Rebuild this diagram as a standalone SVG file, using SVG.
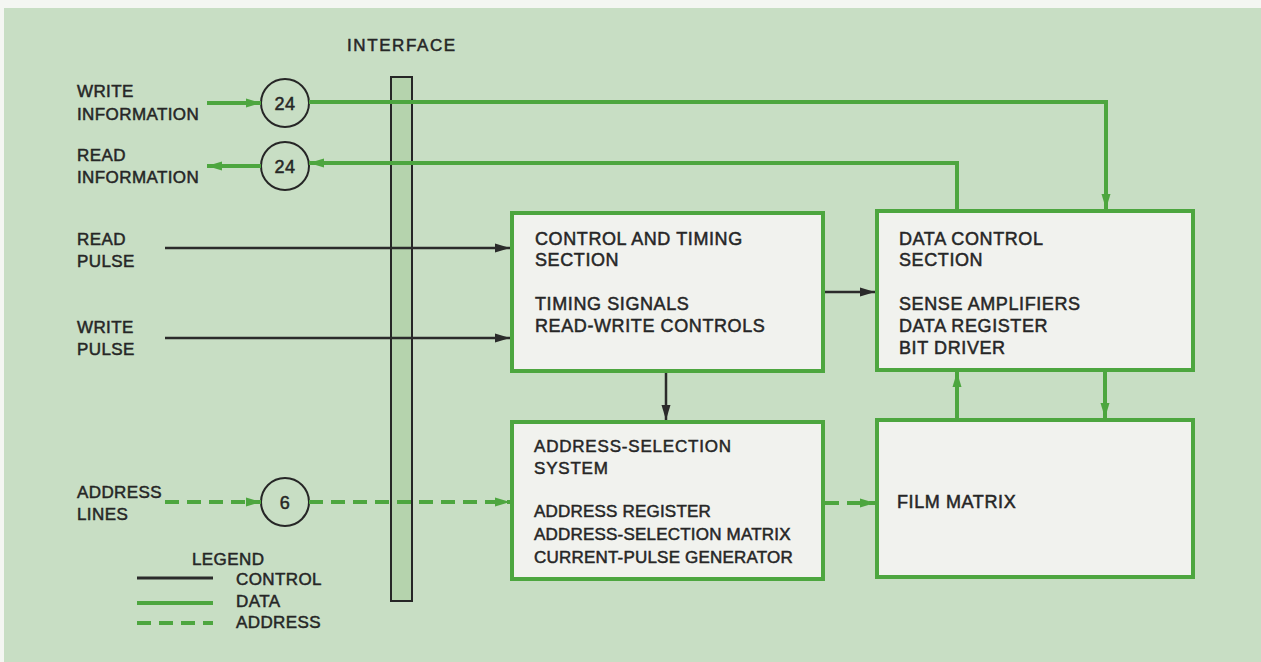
<svg xmlns="http://www.w3.org/2000/svg" width="1261" height="662" viewBox="0 0 1261 662">
<defs>
<marker id="ab" markerWidth="16" markerHeight="12" refX="15" refY="6" orient="auto" markerUnits="userSpaceOnUse"><path d="M0,1.5 L15,6 L0,10.5 Z" fill="#2b2b2b"/></marker>
<marker id="ag" markerWidth="16" markerHeight="12" refX="15" refY="6" orient="auto" markerUnits="userSpaceOnUse"><path d="M0,1.5 L15,6 L0,10.5 Z" fill="#4da63f"/></marker>
<style>
.t{font-family:"Liberation Sans",Arial,sans-serif;font-size:17px;fill:#262626;stroke:#262626;stroke-width:0.5px;letter-spacing:0.4px}
.b{font-family:"Liberation Sans",Arial,sans-serif;font-size:18px;fill:#262626;stroke:#262626;stroke-width:0.5px;letter-spacing:0.6px}
.s{font-family:"Liberation Sans",Arial,sans-serif;font-size:17px;fill:#262626;stroke:#262626;stroke-width:0.5px;letter-spacing:0.2px}
.box{fill:#f1f2ee;stroke:#4da63f;stroke-width:4}
.circ{fill:none;stroke:#262626;stroke-width:2}
.ctl{stroke:#2b2b2b;stroke-width:2.5;fill:none}
.dat{stroke:#4da63f;stroke-width:4;fill:none}
.adr{stroke:#4da63f;stroke-width:4;fill:none;stroke-dasharray:14 8}
</style>
</defs>
<rect x="0" y="0" width="1261" height="662" fill="#f4f6f2"/>
<rect x="4" y="8" width="1257" height="654" fill="#c8dec4"/>

<g id="interface">
<rect x="391" y="77" width="21" height="524" fill="#b5d3ad" stroke="#262626" stroke-width="2"/>
<text class="t" x="347" y="51" style="letter-spacing:1.6px">INTERFACE</text>
</g>

<g id="labels">
<text class="t" x="77" y="97">WRITE</text>
<text class="t" x="77" y="120">INFORMATION</text>
<text class="t" x="77" y="161">READ</text>
<text class="t" x="77" y="183">INFORMATION</text>
<text class="t" x="77" y="245">READ</text>
<text class="t" x="77" y="267">PULSE</text>
<text class="t" x="77" y="333">WRITE</text>
<text class="t" x="77" y="355">PULSE</text>
<text class="t" x="77" y="498">ADDRESS</text>
<text class="t" x="77" y="520">LINES</text>
</g>

<g id="circle-write"><circle class="circ" cx="285" cy="103" r="24"/><text class="b" x="285" y="110" text-anchor="middle">24</text></g>
<g id="circle-read"><circle class="circ" cx="285" cy="166" r="24"/><text class="b" x="285" y="173" text-anchor="middle">24</text></g>
<g id="circle-address"><circle class="circ" cx="285" cy="502" r="24"/><text class="b" x="285" y="509" text-anchor="middle">6</text></g>

<g id="control-timing">
<rect class="box" x="512" y="213" width="311" height="158"/>
<text class="b" x="535" y="245">CONTROL AND TIMING</text>
<text class="b" x="535" y="266">SECTION</text>
<text class="b" x="535" y="310">TIMING SIGNALS</text>
<text class="b" x="535" y="332">READ-WRITE CONTROLS</text>
</g>

<g id="data-control">
<rect class="box" x="877" y="211" width="316" height="159"/>
<text class="b" x="899" y="245">DATA  CONTROL</text>
<text class="b" x="899" y="266">SECTION</text>
<text class="b" x="899" y="310">SENSE AMPLIFIERS</text>
<text class="b" x="899" y="332">DATA REGISTER</text>
<text class="b" x="899" y="354">BIT DRIVER</text>
</g>

<g id="address-selection">
<rect class="box" x="512" y="422" width="311" height="157"/>
<text class="s" x="534" y="452" style="letter-spacing:0.8px">ADDRESS-SELECTION</text>
<text class="s" x="534" y="474" style="letter-spacing:0.8px">SYSTEM</text>
<text class="s" x="534" y="517">ADDRESS REGISTER</text>
<text class="s" x="534" y="540">ADDRESS-SELECTION MATRIX</text>
<text class="s" x="534" y="563">CURRENT-PULSE GENERATOR</text>
</g>

<g id="film-matrix">
<rect class="box" x="877" y="420" width="316" height="157"/>
<text class="b" x="897" y="508">FILM MATRIX</text>
</g>

<g id="connectors">
<line class="dat" x1="207" y1="103" x2="261" y2="103" marker-end="url(#ag)"/>
<polyline class="dat" points="309,102 1106,102 1106,209" marker-end="url(#ag)"/>
<polyline class="dat" points="957,209 957,163 309,163" marker-end="url(#ag)"/>
<line class="dat" x1="261" y1="166" x2="207" y2="166" marker-end="url(#ag)"/>
<line class="ctl" x1="165" y1="248" x2="510" y2="248" marker-end="url(#ab)"/>
<line class="ctl" x1="165" y1="338" x2="510" y2="338" marker-end="url(#ab)"/>
<line class="ctl" x1="825" y1="292" x2="875" y2="292" stroke-width="4" marker-end="url(#ab)"/>
<line class="ctl" x1="666" y1="373" x2="666" y2="420" marker-end="url(#ab)"/>
<line class="dat" x1="957" y1="418" x2="957" y2="372" marker-end="url(#ag)"/>
<line class="dat" x1="1105" y1="372" x2="1105" y2="418" marker-end="url(#ag)"/>
<line class="adr" x1="165" y1="502" x2="261" y2="502" marker-end="url(#ag)"/>
<line class="adr" x1="309" y1="502" x2="510" y2="502" marker-end="url(#ag)"/>
<line class="adr" x1="825" y1="503" x2="875" y2="503" marker-end="url(#ag)"/>
</g>

<g id="legend">
<text class="t" x="192" y="565">LEGEND</text>
<line x1="137" y1="578" x2="213" y2="578" stroke="#2b2b2b" stroke-width="3"/>
<line x1="137" y1="603" x2="213" y2="603" stroke="#4da63f" stroke-width="4"/>
<line x1="137" y1="623" x2="213" y2="623" stroke="#4da63f" stroke-width="4" stroke-dasharray="14 8"/>
<text class="t" x="236" y="585">CONTROL</text>
<text class="t" x="236" y="607">DATA</text>
<text class="t" x="236" y="628">ADDRESS</text>
</g>
</svg>
